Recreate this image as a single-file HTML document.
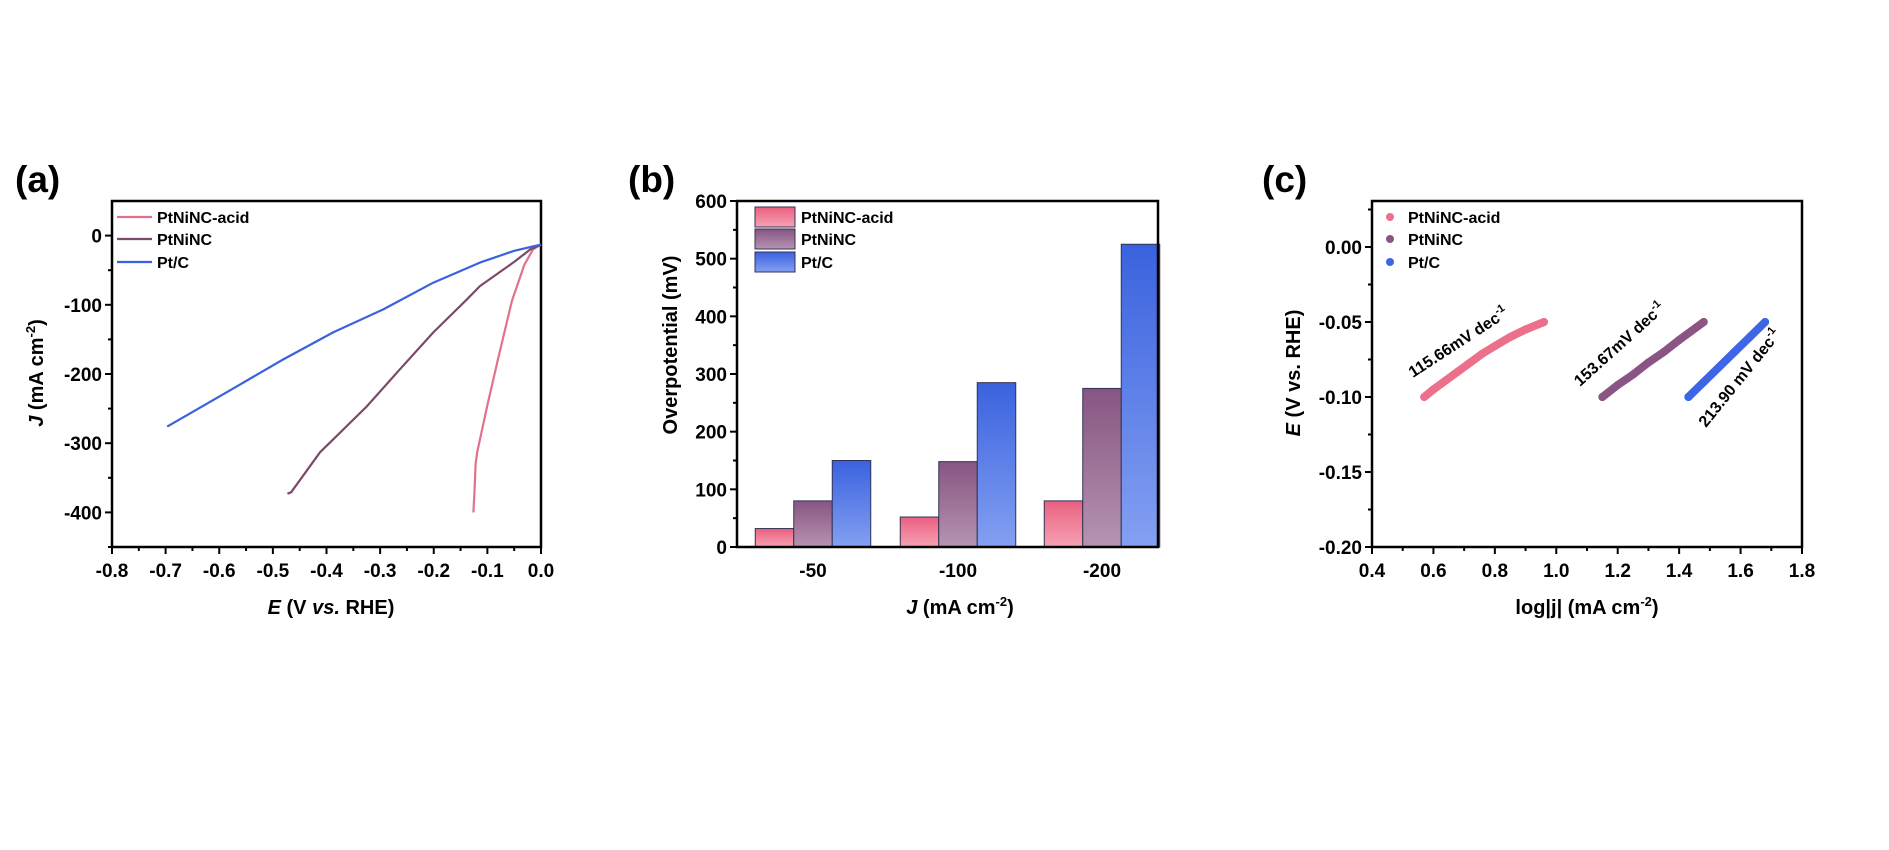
<!DOCTYPE html>
<html><head><meta charset="utf-8">
<style>
html,body{margin:0;padding:0;background:#fff;}
svg{display:block;font-family:"Liberation Sans",Arial,sans-serif;}
text{font-weight:bold;fill:#000;}
</style></head>
<body>
<svg id="fig" width="1889" height="850" viewBox="0 0 1889 850" xmlns="http://www.w3.org/2000/svg">
<defs>
<linearGradient id="gPink" x1="0" y1="0" x2="0" y2="1"><stop offset="0" stop-color="#e9607f"/><stop offset="1" stop-color="#f7a2b5"/></linearGradient>
<linearGradient id="gPurp" x1="0" y1="0" x2="0" y2="1"><stop offset="0" stop-color="#875582"/><stop offset="1" stop-color="#b594b1"/></linearGradient>
<linearGradient id="gBlue" x1="0" y1="0" x2="0" y2="1"><stop offset="0" stop-color="#3a62de"/><stop offset="1" stop-color="#84a0f2"/></linearGradient>
</defs>
<g id="pa"></g>
<g id="pb"></g>
<g id="pc"></g>
</svg>
<script>
// ---------- Panel (a) data ----------
const aSeriesNames = ["PtNiNC-acid","PtNiNC","Pt/C"];
const aColors = ["#e2718c","#7a4a6d","#3a62de"];
const aAcidX = [-0.126,-0.124,-0.122,-0.119,-0.100,-0.081,-0.054,-0.031,-0.015,0];
const aAcidY = [-400,-370,-330,-313,-245,-181,-94,-42,-20,-13];
const aNiX = [-0.473,-0.466,-0.412,-0.388,-0.325,-0.263,-0.201,-0.138,-0.114,-0.05,-0.02,0];
const aNiY = [-373,-371,-313,-295,-247,-193,-140,-92,-73,-38,-20,-13];
const aPtX = [-0.697,-0.65,-0.561,-0.481,-0.388,-0.295,-0.201,-0.114,-0.05,0];
const aPtY = [-276,-255,-215,-179,-140,-107,-68,-39,-22,-13];
const aXTicks = [-0.8,-0.7,-0.6,-0.5,-0.4,-0.3,-0.2,-0.1,0.0];
const aYTicks = [0,-100,-200,-300,-400];
// ---------- Panel (b) data ----------
const bCategories = ["-50","-100","-200"];
const bAcid = [32,52,80];
const bNi = [80,148,275];
const bPt = [150,285,525];
const bYTicks = [0,100,200,300,400,500,600];
// ---------- Panel (c) data ----------
const cAcidX = [0.57,0.60,0.64,0.68,0.72,0.76,0.80,0.85,0.90,0.96];
const cAcidY = [-0.100,-0.095,-0.089,-0.083,-0.077,-0.071,-0.066,-0.060,-0.055,-0.050];
const cNiX = [1.15,1.20,1.25,1.30,1.35,1.40,1.48];
const cNiY = [-0.100,-0.092,-0.085,-0.077,-0.070,-0.062,-0.050];
const cPtX = [1.43,1.48,1.53,1.58,1.63,1.68];
const cPtY = [-0.100,-0.090,-0.080,-0.070,-0.060,-0.050];
const cXTicks = [0.4,0.6,0.8,1.0,1.2,1.4,1.6,1.8];
const cYTicks = [0.00,-0.05,-0.10,-0.15,-0.20];
const cSlopes = ["115.66mV dec","153.67mV dec","213.90 mV dec"];

const NS="http://www.w3.org/2000/svg";
function mk(parent,tag,attrs,txt){const e=document.createElementNS(NS,tag);for(const k in attrs)e.setAttribute(k,attrs[k]);if(txt!==undefined)e.textContent=txt;parent.appendChild(e);return e;}
function lin(d0,d1,r0,r1){return v=>r0+(v-d0)/(d1-d0)*(r1-r0);}

// ===== Panel A =====
(function(){
const g=document.getElementById('pa');
const L=112,R=541,T=201,B=547;
const sx=lin(-0.8,0,L,R), sy=lin(50,-450,T,B);
let e=mk(g,'text',{x:15,y:192,'font-size':37});e.textContent='(a)';

e=mk(g,'rect',{x:L,y:T,width:R-L,height:B-T,fill:'none',stroke:'#000','stroke-width':2.5});

for(let k=0;k<=16;k++){const v=-0.8+k*0.05;mk(g,'line',{x1:sx(v),x2:sx(v),y1:B,y2:B+(k%2===0?7:4),stroke:'#000','stroke-width':2});}
aXTicks.forEach(v=>{const t=mk(g,'text',{x:sx(v),y:577,'font-size':19,'text-anchor':'middle'},v.toFixed(1));});
for(let v=0;v>=-450;v-=50){mk(g,'line',{x1:L,x2:L-(v%100===0?7:4),y1:sy(v),y2:sy(v),stroke:'#000','stroke-width':2});}
aYTicks.forEach(v=>{const t=mk(g,'text',{x:102,y:sy(v)+7,'font-size':19,'text-anchor':'end'},String(v));});
e=mk(g,'text',{x:331,y:614,'font-size':20,'text-anchor':'middle'});
e.innerHTML='<tspan font-style="italic">E</tspan> (V <tspan font-style="italic">vs.</tspan> RHE)';

e=mk(g,'text',{x:0,y:0,'font-size':20,'text-anchor':'middle',transform:'translate(43,373) rotate(-90)'});
e.innerHTML='<tspan font-style="italic">J</tspan> (mA cm<tspan dy="-8" font-size="13">-2</tspan><tspan dy="8">)</tspan>';

const sets=[[aAcidX,aAcidY],[aNiX,aNiY],[aPtX,aPtY]];
sets.forEach((s,i)=>{const p=s[0].map((x,j)=>sx(x).toFixed(1)+','+sy(s[1][j]).toFixed(1)).join(' ');
const pl=mk(g,'polyline',{points:p,fill:'none',stroke:aColors[i],'stroke-width':2.2,'stroke-linejoin':'round'});
});
const ly=[217,239,262];
aSeriesNames.forEach((n,i)=>{const lg=mk(g,'g',{});
mk(lg,'line',{x1:117,x2:152,y1:ly[i],y2:ly[i],stroke:aColors[i],'stroke-width':2.2});
mk(lg,'text',{x:157,y:ly[i]+6,'font-size':16},n);});
})();

// ===== Panel B =====
(function(){
const g=document.getElementById('pb');
const L=737,R=1158,T=201,B=547;
const sy=lin(0,600,B,T);
const centers=[813,958,1102], bw=38.5;
let e=mk(g,'text',{x:628,y:192,'font-size':37});e.textContent='(b)';

const fills=['url(#gPink)','url(#gPurp)','url(#gBlue)'];
const series=[bAcid,bNi,bPt];
const names=['PtNiNC-acid','PtNiNC','Pt/C'];
bCategories.forEach((c,ci)=>{series.forEach((s,si)=>{const x=centers[ci]+(si-1.5)*bw;
const r=mk(g,'rect',{x:x,y:sy(s[ci]),width:bw,height:sy(0)-sy(s[ci]),fill:fills[si],stroke:'#333355','stroke-width':1});
});
const t=mk(g,'text',{x:centers[ci],y:577,'font-size':19,'text-anchor':'middle'},c);
});
e=mk(g,'rect',{x:L,y:T,width:R-L,height:B-T,fill:'none',stroke:'#000','stroke-width':2.5});

for(let v=0;v<=600;v+=50){mk(g,'line',{x1:L,x2:L-(v%100===0?7:4),y1:sy(v),y2:sy(v),stroke:'#000','stroke-width':2});}
bYTicks.forEach(v=>{const t=mk(g,'text',{x:727,y:sy(v)+7,'font-size':19,'text-anchor':'end'},String(v));});
e=mk(g,'text',{x:960,y:614,'font-size':20,'text-anchor':'middle'});
e.innerHTML='<tspan font-style="italic">J</tspan> (mA cm<tspan dy="-8" font-size="13">-2</tspan><tspan dy="8">)</tspan>';

e=mk(g,'text',{x:0,y:0,'font-size':20,'text-anchor':'middle',transform:'translate(677,345) rotate(-90)'},'Overpotential (mV)');

const ly=[217,239,262];
names.forEach((n,i)=>{const lg=mk(g,'g',{});
mk(lg,'rect',{x:755,y:ly[i]-10,width:40,height:20,fill:fills[i],stroke:'#333355','stroke-width':1});
mk(lg,'text',{x:801,y:ly[i]+6,'font-size':16},n);});
})();

// ===== Panel C =====
(function(){
const g=document.getElementById('pc');
const L=1372,R=1802,T=201,B=547;
const sx=lin(0.4,1.8,L,R), sy=lin(0,-0.2,247,547);
let e=mk(g,'text',{x:1262,y:192,'font-size':37});e.textContent='(c)';

e=mk(g,'rect',{x:L,y:T,width:R-L,height:B-T,fill:'none',stroke:'#000','stroke-width':2.5});

for(let k=0;k<=14;k++){const v=0.4+k*0.1;mk(g,'line',{x1:sx(v),x2:sx(v),y1:B,y2:B+(k%2===0?7:4),stroke:'#000','stroke-width':2});}
cXTicks.forEach(v=>{const t=mk(g,'text',{x:sx(v),y:577,'font-size':19,'text-anchor':'middle'},v.toFixed(1));});
for(let k=-1;k<=8;k++){const v=-k*0.025;mk(g,'line',{x1:L,x2:L-(k%2===0?7:4),y1:sy(v),y2:sy(v),stroke:'#000','stroke-width':2});}
cYTicks.forEach(v=>{const t=mk(g,'text',{x:1362,y:sy(v)+7,'font-size':19,'text-anchor':'end'},v.toFixed(2));});
e=mk(g,'text',{x:1587,y:614,'font-size':20,'text-anchor':'middle'});
e.innerHTML='log|j| (mA cm<tspan dy="-8" font-size="13">-2</tspan><tspan dy="8">)</tspan>';

e=mk(g,'text',{x:0,y:0,'font-size':20,'text-anchor':'middle',transform:'translate(1300,373) rotate(-90)'});
e.innerHTML='<tspan font-style="italic">E</tspan> (V vs. RHE)';

const cols=['#ec6f8c','#8a5584','#3d66e6'];
const sets=[[cAcidX,cAcidY],[cNiX,cNiY],[cPtX,cPtY]];
const names=['PtNiNC-acid','PtNiNC','Pt/C'];
sets.forEach((s,i)=>{const p=s[0].map((x,j)=>sx(x).toFixed(1)+','+sy(s[1][j]).toFixed(1)).join(' ');
const pl=mk(g,'polyline',{points:p,fill:'none',stroke:cols[i],'stroke-width':8,'stroke-linecap':'round','stroke-linejoin':'round'});

s[0].forEach((x,j)=>{const c=mk(g,'circle',{cx:sx(x),cy:sy(s[1][j]),r:4,fill:cols[i]});});});
const ann=[[1413,378,-33],[1580,387,-42],[1706,428,-51]];
cSlopes.forEach((t,i)=>{const a=mk(g,'text',{x:0,y:0,'font-size':16,transform:`translate(${ann[i][0]},${ann[i][1]}) rotate(${ann[i][2]})`});
a.innerHTML=t+'<tspan dy="-7" font-size="11">-1</tspan>';
});
const ly=[217,239,262];
names.forEach((n,i)=>{const lg=mk(g,'g',{});
mk(lg,'circle',{cx:1390,cy:ly[i],r:4,fill:cols[i]});
mk(lg,'text',{x:1408,y:ly[i]+6,'font-size':16},n);});
})();
</script>
</body></html>
